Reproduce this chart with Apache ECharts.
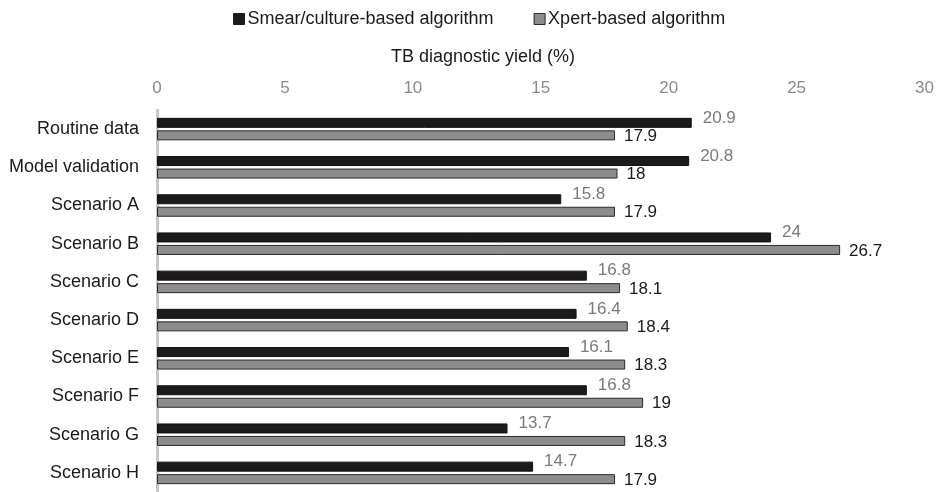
<!DOCTYPE html>
<html>
<head>
<meta charset="utf-8">
<script src="https://cdn.jsdelivr.net/npm/echarts@6/dist/echarts.min.js"></script>
<style>
  html, body { margin: 0; padding: 0; background: #fff; }
  #chart { width: 937px; height: 492px; }
</style>
</head>
<body>
<div id="chart"></div>
<script>
// Diagnostic yield per scenario, for the two algorithms
const categories = ['Routine data', 'Model validation', 'Scenario A', 'Scenario B', 'Scenario C',
  'Scenario D', 'Scenario E', 'Scenario F', 'Scenario G', 'Scenario H'];
const smearCulture = [20.9, 20.8, 15.8, 24, 16.8, 16.4, 16.1, 16.8, 13.7, 14.7];
const xpert = [17.9, 18, 17.9, 26.7, 18.1, 18.4, 18.3, 19, 18.3, 17.9];
const seriesNames = ['Smear/culture-based algorithm', 'Xpert-based algorithm'];
const axisTitle = 'TB diagnostic yield (%)';

const FONT = '"Liberation Sans", Arial, sans-serif';
const chart = echarts.init(document.getElementById('chart'), null, { renderer: 'canvas' });

chart.setOption({
  animation: false,
  backgroundColor: '#ffffff',
  textStyle: { fontFamily: FONT },
  legend: {
    left: 228,
    top: 5,
    itemWidth: 11,
    itemHeight: 11,
    itemGap: 40,
    textStyle: { fontSize: 18, color: '#1a1a1a', fontFamily: FONT, padding: [0, 0, 0, -2] },
    data: [
      { name: seriesNames[0], icon: 'rect', itemStyle: { color: '#1c1a1a', borderColor: '#1c1a1a', borderWidth: 1 } },
      { name: seriesNames[1], icon: 'rect', itemStyle: { color: '#8c8c8c', borderColor: '#2a2a2a', borderWidth: 1 } }
    ]
  },
  graphic: [{
    type: 'text',
    left: 391,
    top: 48,
    style: { text: axisTitle, fontSize: 18, fill: '#1a1a1a', fontFamily: FONT }
  }],
  grid: { left: 157, right: 12, top: 110, height: 384, containLabel: false },
  xAxis: {
    type: 'value',
    position: 'top',
    min: 0,
    max: 30,
    interval: 5,
    axisLine: { show: false },
    axisTick: { show: false },
    splitLine: { show: false },
    axisLabel: { fontSize: 17, color: '#8a8a8a', margin: 13, fontFamily: FONT }
  },
  yAxis: {
    type: 'category',
    inverse: true,
    data: categories,
    axisLine: { show: true, lineStyle: { color: '#c8c8c8', width: 3 } },
    axisTick: { show: false },
    axisLabel: { fontSize: 18, color: '#1a1a1a', margin: 18, fontFamily: FONT }
  },
  series: [
    {
      name: seriesNames[0],
      type: 'bar',
      data: smearCulture,
      barWidth: 10,
      barGap: '25%',
      itemStyle: { color: '#1c1a1a', borderColor: '#111', borderWidth: 1 },
      label: {
        show: true,
        position: 'right',
        distance: 11,
        offset: [0, -5],
        fontSize: 17,
        color: '#7a7a7a',
        fontFamily: FONT
      }
    },
    {
      name: seriesNames[1],
      type: 'bar',
      data: xpert,
      barWidth: 10,
      itemStyle: { color: '#8c8c8c', borderColor: '#2a2a2a', borderWidth: 1 },
      label: {
        show: true,
        position: 'right',
        distance: 9,
        offset: [0, 1],
        fontSize: 17,
        color: '#1a1a1a',
        fontFamily: FONT
      }
    }
  ]
});
</script>
</body>
</html>
